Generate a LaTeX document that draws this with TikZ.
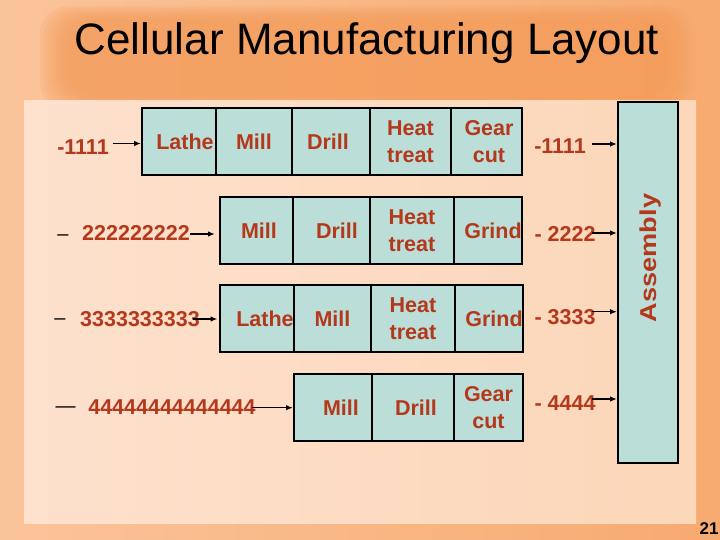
\documentclass[tikz,border=0pt]{standalone}
\usepackage{fontspec}
\setmainfont{Liberation Sans}
\usetikzlibrary{arrows.meta,calc}
\definecolor{cellfill}{RGB}{187,222,216}
\definecolor{txtred}{RGB}{180,56,28}
\definecolor{panelL}{RGB}{253,225,205}
\definecolor{panelR}{RGB}{252,214,184}
\definecolor{bgL}{RGB}{250,196,154}
\definecolor{bgR}{RGB}{247,170,112}
\definecolor{bannerc}{RGB}{244,156,90}
\begin{document}
\begin{tikzpicture}[x=1pt,y=-1pt,
  cell/.style={draw=black,line width=2pt,fill=cellfill,inner xsep=0pt,inner ysep=0pt,
    minimum height=67pt,align=center,font=\fontsize{21.5}{26.5}\selectfont\bfseries,text=txtred},
  lbl/.style={font=\fontsize{21.5}{24}\selectfont\bfseries,text=txtred,inner sep=0pt},
  dsh/.style={font=\fontsize{20}{24}\selectfont,text=black,inner sep=0pt},
  arr/.style={line width=1.5pt,-{Latex[length=7pt,width=5.5pt]}},
  ]
\useasboundingbox (0,0) rectangle (720,540);
% background
\shade[left color=bgL,right color=bgR] (0,0) rectangle (720,540);
\foreach \i in {0,...,7}
  \fill[bannerc,fill opacity=0.16,rounded corners=28pt] (40+\i*4,6+\i*2) rectangle (695-\i*4,110-\i*2);
\shade[left color=panelL,right color=panelR] (24,101) rectangle (696,523);
% title
\node[font=\fontsize{44}{50}\selectfont,text=black] (title) at (367,43.5) {Cellular Manufacturing Layout};
% row 1
\node[cell,text width=74pt] (r1a) at (179,141.5) {\hspace*{12pt}Lathe};
\node[cell,text width=76pt] (r1b) at (254,141.5) {Mill};
\node[cell,text width=78pt] (r1c) at (331,141.5) {\hspace*{-6pt}Drill};
\node[cell,text width=81pt] (r1d) at (410.5,141.5) {\raisebox{-3pt}{Heat}\\\raisebox{-3pt}{treat}};
\node[cell,text width=71pt] (r1e) at (486.5,141.5) {\hspace*{5pt}Gear\\\hspace*{5pt}cut};
% row 2
\node[cell,text width=73pt] (r2a) at (256.5,230.5) {\hspace*{5pt}Mill};
\node[cell,text width=77pt] (r2b) at (331.5,230.5) {\hspace*{11pt}Drill};
\node[cell,text width=84pt] (r2c) at (412,230.5) {Heat\\treat};
\node[cell,text width=68pt] (r2d) at (488,230.5) {\hspace*{10pt}Grind};
% row 3
\node[cell,text width=74pt] (r3a) at (257,318.5) {\hspace*{16pt}Lathe};
\node[cell,text width=77pt] (r3b) at (332.5,318.5) {Mill};
\node[cell,text width=84pt] (r3c) at (413,318.5) {Heat\\treat};
\node[cell,text width=68pt] (r3d) at (489,318.5) {\hspace*{10pt}Grind};
% row 4
\node[cell,text width=78pt] (r4a) at (333,407.5) {\hspace*{16pt}Mill};
\node[cell,text width=82pt] (r4b) at (413,407.5) {\hspace*{6pt}Drill};
\node[cell,text width=69pt] (r4c) at (488.5,407.5) {\raisebox{-2pt}{Gear}\\\raisebox{-2pt}{cut}};
% assembly
\node[draw=black,line width=2pt,fill=cellfill,minimum width=60pt,minimum height=361pt,inner sep=0pt] (asm) at (648,282.5) {};
\node[font=\fontsize{23}{26}\selectfont\bfseries,text=txtred,inner sep=0pt,rotate=90] (asmt) at (651,258) {\scalebox{1.18}[1]{Assembly}};
% left labels
\node[lbl] (l1) at (83,147) {-1111};
\node[dsh] (d2) at (63,238) {–};
\node[lbl] (l2) at (136,233) {222222222};
\node[dsh] (d3) at (60,322) {–};
\node[lbl] (l3) at (140,319) {3333333333};
\node[dsh] (d4) at (65.5,410) {—};
\node[lbl] (l4) at (172,407) {44444444444444};
% right labels
\node[lbl] (q1) at (560,146) {-1111};
\node[lbl] (q2) at (565,234) {- 2222};
\node[lbl] (q3) at (565,317) {- 3333};
\node[lbl] (q4) at (565,403) {- 4444};
% arrows
\coordinate (s1) at (112.7,143.5);
\coordinate (s2) at (190,234);
\coordinate (e2) at (215,234);
\coordinate (s3) at (192.7,319);
\coordinate (e3) at (217.5,319);
\coordinate (s4) at (251.7,407.7);
\draw[arr] (s1) -- (s1 -| r1a.west);
\draw[arr] (s2) -- (e2);
\draw[arr] (s3) -- (e3);
\draw[arr] (s4) -- (s4 -| r4a.west);
\coordinate (t1) at (591.7,144);
\coordinate (t2) at (591.7,233);
\coordinate (t3) at (591.7,311.7);
\coordinate (t4) at (591.7,399);
\draw[arr] (t1) -- (t1 -| asm.west);
\draw[arr] (t2) -- (t2 -| asm.west);
\draw[arr] (t3) -- (t3 -| asm.west);
\draw[arr] (t4) -- (t4 -| asm.west);
% page number
\node[font=\fontsize{17}{20}\selectfont\bfseries,text=black,inner sep=0pt] (pg) at (709,529) {21};
\end{tikzpicture}
\end{document}
